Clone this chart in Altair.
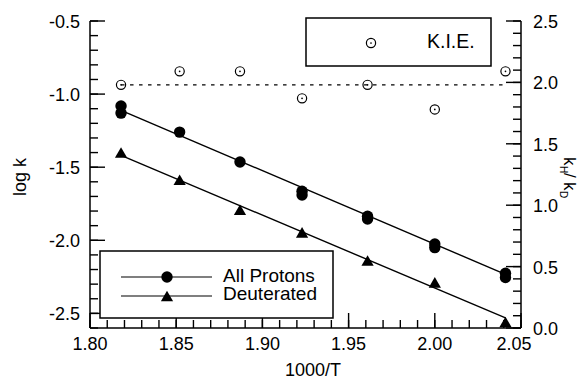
import altair as alt
import pandas as pd

# ---------------- data ----------------
inv_T = [1.818, 1.852, 1.887, 1.923, 1.961, 2.000, 2.041]
prot_x = [1.818, 1.818, 1.852, 1.887, 1.923, 1.923, 1.961, 1.961, 2.000, 2.000, 2.041, 2.041]
prot_logk = [-1.081, -1.130, -1.260, -1.465, -1.665, -1.690, -1.835, -1.855, -2.025, -2.050, -2.225, -2.255]
deut_logk = [-1.400, -1.586, -1.791, -1.946, -2.138, -2.288, -2.559]
kie = [1.98, 2.09, 2.09, 1.87, 1.98, 1.78, 2.09]
kie_mean = 1.98
fit_x = [1.818, 2.041]
prot_fit = [-1.111, -2.233]
deut_fit = [-1.419, -2.531]

x_domain = [1.80, 2.05]
left_domain = [-2.6, -0.5]
right_domain = [0.0, 2.5]
x_labels = [1.80, 1.85, 1.90, 1.95, 2.00, 2.05]
x_minor = [1.80, 1.81, 1.82, 1.83, 1.84, 1.85, 1.86, 1.87, 1.88, 1.89, 1.90, 1.91, 1.92,
           1.93, 1.94, 1.95, 1.96, 1.97, 1.98, 1.99, 2.00, 2.01, 2.02, 2.03, 2.04, 2.05]
left_labels = [-2.5, -2.0, -1.5, -1.0, -0.5]
left_minor = [-2.6, -2.5, -2.4, -2.3, -2.2, -2.1, -2.0, -1.9, -1.8, -1.7, -1.6, -1.5, -1.4,
              -1.3, -1.2, -1.1, -1.0, -0.9, -0.8, -0.7, -0.6, -0.5]
right_labels = [0.0, 0.5, 1.0, 1.5, 2.0, 2.5]
right_minor = [0.0, 0.1, 0.2, 0.3, 0.4, 0.5, 0.6, 0.7, 0.8, 0.9, 1.0, 1.1, 1.2, 1.3, 1.4,
               1.5, 1.6, 1.7, 1.8, 1.9, 2.0, 2.1, 2.2, 2.3, 2.4, 2.5]
series_names = ["All Protons", "Deuterated"]
kie_name = "K.I.E."
x_title = "1000/T"
y_title = "log k"

# ---------------- layout ----------------
W, H = 431, 307
FONT = "Liberation Sans"
FS = 18
MAJ, MIN = 15, 8

xs = alt.Scale(domain=x_domain, nice=False, zero=False)
yls = alt.Scale(domain=left_domain, nice=False, zero=False)
yrs = alt.Scale(domain=right_domain, nice=False, zero=False)

prot_df = pd.DataFrame({"x": prot_x, "y": prot_logk})
deut_df = pd.DataFrame({"x": inv_T, "y": deut_logk})
kie_df = pd.DataFrame({"x": inv_T, "k": kie})
fit_df = pd.DataFrame({"x": fit_x + fit_x, "y": prot_fit + deut_fit,
                       "s": [series_names[0]] * 2 + [series_names[1]] * 2})
kie_line_df = pd.DataFrame({"x": [inv_T[0]], "x2": [inv_T[-1]], "k": [kie_mean]})
xlab_df = pd.DataFrame({"v": x_labels, "t": [f"{v:.2f}" for v in x_labels]})
llab_df = pd.DataFrame({"v": left_labels, "t": [f"{v:.1f}" for v in left_labels]})
rlab_df = pd.DataFrame({"v": right_labels, "t": [f"{v:.1f}" for v in right_labels]})
one = pd.DataFrame({"a": [0]})

line_w = 1.4
rule_style = dict(color="black", strokeWidth=line_w)
txt_style = dict(font=FONT, fontSize=FS, color="black")
CIRC, TRI = 130, 150

# axis lines (left, bottom, right)
dom_left = alt.Chart(one).mark_rule(color="black", strokeWidth=1.5).encode(
    x=alt.value(0), y=alt.value(0), y2=alt.value(H))
dom_bottom = alt.Chart(one).mark_rule(color="black", strokeWidth=1.5).encode(
    x=alt.value(0), x2=alt.value(W), y=alt.value(H))
dom_right = alt.Chart(one).mark_rule(color="black", strokeWidth=1.5).encode(
    x=alt.value(W), y=alt.value(0), y2=alt.value(H))

# inward ticks
lt_min = alt.Chart(pd.DataFrame({"v": left_minor})).mark_rule(**rule_style).encode(
    y=alt.Y("v:Q", scale=yls, axis=None), x=alt.value(0), x2=alt.value(MIN))
lt_maj = alt.Chart(pd.DataFrame({"v": left_labels})).mark_rule(**rule_style).encode(
    y=alt.Y("v:Q", scale=yls, axis=None), x=alt.value(0), x2=alt.value(MAJ))
bt_min = alt.Chart(pd.DataFrame({"v": x_minor})).mark_rule(**rule_style).encode(
    x=alt.X("v:Q", scale=xs, axis=None), y=alt.value(H), y2=alt.value(H - MIN))
bt_maj = alt.Chart(pd.DataFrame({"v": x_labels})).mark_rule(**rule_style).encode(
    x=alt.X("v:Q", scale=xs, axis=None), y=alt.value(H), y2=alt.value(H - MAJ))
rt_min = alt.Chart(pd.DataFrame({"v": right_minor})).mark_rule(**rule_style).encode(
    y=alt.Y("v:Q", scale=yrs, axis=None), x=alt.value(W), x2=alt.value(W - MIN))
rt_maj = alt.Chart(pd.DataFrame({"v": right_labels})).mark_rule(**rule_style).encode(
    y=alt.Y("v:Q", scale=yrs, axis=None), x=alt.value(W), x2=alt.value(W - MAJ))

# tick labels
xlab_main = alt.Chart(xlab_df).transform_filter("datum.v < 2.04").mark_text(
    align="center", baseline="alphabetic", **txt_style).encode(
    x=alt.X("v:Q", scale=xs, axis=None), y=alt.value(H + 22), text="t:N")
xlab_last = alt.Chart(xlab_df).transform_filter("datum.v > 2.04").mark_text(
    align="center", baseline="alphabetic", dx=-7, **txt_style).encode(
    x=alt.X("v:Q", scale=xs, axis=None), y=alt.value(H + 22), text="t:N")
llab = alt.Chart(llab_df).mark_text(align="right", baseline="middle", dy=2,
                                    **txt_style).encode(
    y=alt.Y("v:Q", scale=yls, axis=None), x=alt.value(-10), text="t:N")
rlab = alt.Chart(rlab_df).mark_text(align="left", baseline="middle", dy=2,
                                    **txt_style).encode(
    y=alt.Y("v:Q", scale=yrs, axis=None), x=alt.value(W + 12), text="t:N")

# axis titles
xt = alt.Chart(one).mark_text(text=x_title, align="center", baseline="alphabetic",
                              **txt_style).encode(x=alt.value(223), y=alt.value(355))
yt = alt.Chart(one).mark_text(text=y_title, align="center", baseline="alphabetic", angle=270,
                              **txt_style).encode(x=alt.value(-64), y=alt.value(156))
pieces = [("k", 474, 136, 17), ("H", 470, 145, 10), ("/", 474, 152, 17),
          ("k", 474, 161, 17), ("D", 470, 170, 10)]
rtitle = alt.layer(*[
    alt.Chart(one).mark_text(text=t, font=FONT, fontSize=fs, angle=90, align="left",
                             baseline="alphabetic", color="black").encode(
        x=alt.value(px), y=alt.value(py))
    for t, px, py, fs in pieces])

# data marks
fits = alt.Chart(fit_df).mark_line(color="black", strokeWidth=1.4).encode(
    x=alt.X("x:Q", scale=xs, axis=None), y=alt.Y("y:Q", scale=yls, axis=None), detail="s:N")
prot_pts = alt.Chart(prot_df).mark_point(shape="circle", filled=True, size=CIRC, color="black",
                                         opacity=1).encode(
    x=alt.X("x:Q", scale=xs, axis=None), y=alt.Y("y:Q", scale=yls, axis=None))
deut_pts = alt.Chart(deut_df).mark_point(shape="triangle-up", filled=True, size=TRI,
                                         color="black", opacity=1).encode(
    x=alt.X("x:Q", scale=xs, axis=None), y=alt.Y("y:Q", scale=yls, axis=None))

# legends
box_style = dict(fill="white", stroke="black", strokeWidth=1.5)
leg_lo_box = alt.Chart(one).mark_rect(**box_style).encode(
    x=alt.value(10), x2=alt.value(243), y=alt.value(230), y2=alt.value(297))
leg_lo_lines = alt.layer(*[
    alt.Chart(one).mark_rule(color="black", strokeWidth=1.2).encode(
        x=alt.value(31), x2=alt.value(122), y=alt.value(yy)) for yy in (256, 275)])
leg_lo_c = alt.Chart(one).mark_point(shape="circle", filled=True, size=CIRC, color="black",
                                     opacity=1).encode(x=alt.value(77), y=alt.value(256))
leg_lo_t = alt.Chart(one).mark_point(shape="triangle-up", filled=True, size=TRI, color="black",
                                     opacity=1).encode(x=alt.value(77), y=alt.value(275))
leg_lo_txt = alt.layer(*[
    alt.Chart(one).mark_text(text=name, font=FONT, fontSize=19, align="left",
                             baseline="alphabetic", color="black").encode(
        x=alt.value(133), y=alt.value(yy))
    for name, yy in zip(series_names, (261, 279))])

leg_up_box = alt.Chart(one).mark_rect(**box_style).encode(
    x=alt.value(216), x2=alt.value(401), y=alt.value(-3), y2=alt.value(45))
leg_up_c = alt.Chart(one).mark_point(shape="circle", filled=False, size=85, color="black",
                                     strokeWidth=1.2, opacity=1).encode(
    x=alt.value(281), y=alt.value(22))
leg_up_d = alt.Chart(one).mark_point(shape="circle", filled=True, size=3, color="black",
                                     opacity=1).encode(x=alt.value(281), y=alt.value(22))
leg_up_txt = alt.Chart(one).mark_text(text=kie_name, font=FONT, fontSize=19.5, align="left",
                                      baseline="alphabetic", color="black").encode(
    x=alt.value(337), y=alt.value(27))

left_group = alt.layer(lt_min, lt_maj, bt_min, bt_maj, dom_left, dom_bottom, dom_right,
                       xlab_main, xlab_last, llab, xt, yt, rtitle,
                       leg_lo_box, leg_up_box, fits, prot_pts, deut_pts,
                       leg_lo_lines, leg_lo_c, leg_lo_t, leg_lo_txt,
                       leg_up_c, leg_up_d, leg_up_txt)

# K.I.E. on the right-hand scale
kie_dash = alt.Chart(kie_line_df).mark_rule(color="black", strokeWidth=1.2,
                                            strokeDash=[3.5, 5.5]).encode(
    x=alt.X("x:Q", scale=xs, axis=None), x2="x2:Q",
    y=alt.Y("k:Q", scale=yrs, axis=None))
kie_pts = alt.Chart(kie_df).mark_point(shape="circle", filled=False, size=85, color="black",
                                       strokeWidth=1.2, opacity=1).encode(
    x=alt.X("x:Q", scale=xs, axis=None), y=alt.Y("k:Q", scale=yrs, axis=None))
kie_dots = alt.Chart(kie_df).mark_point(shape="circle", filled=True, size=3, color="black",
                                        opacity=1).encode(
    x=alt.X("x:Q", scale=xs, axis=None), y=alt.Y("k:Q", scale=yrs, axis=None))
right_group = alt.layer(rt_min, rt_maj, rlab, kie_dash, kie_pts, kie_dots)

chart = alt.layer(left_group, right_group).resolve_scale(y="independent").properties(
    width=W, height=H,
    padding={"left": 82, "top": 13, "right": 58, "bottom": 51},
    autosize=alt.AutoSizeParams(type="none"),
    background="white",
).configure_view(stroke=None)

chart.save("out.html", embed_options={"renderer": "svg", "actions": False})
